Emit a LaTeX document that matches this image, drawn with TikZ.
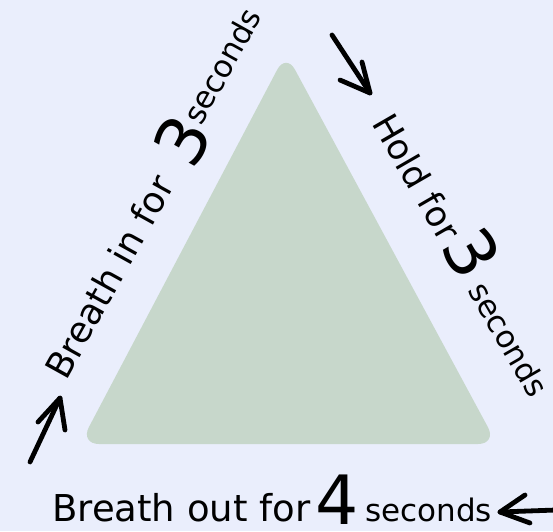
\documentclass[tikz,border=0pt]{standalone}
\usepackage{fontspec}
\setmainfont{DejaVu Sans}
\definecolor{bg}{HTML}{EAEEFC}
\definecolor{tri}{HTML}{C7D7CB}
\begin{document}
\begin{tikzpicture}[x=1pt,y=-1pt,
  txt/.style={inner sep=0pt, anchor=base west, font=\fontsize{35}{40}\selectfont},
  txtl/.style={inner sep=0pt, anchor=base west, font=\fontsize{36}{40}\selectfont},
  txtb/.style={inner sep=0pt, anchor=base west, font=\fontsize{37}{42}\selectfont},
  small/.style={inner sep=0pt, anchor=base west, font=\fontsize{31}{36}\selectfont},
  big/.style={inner sep=0pt, font=\fontsize{68}{72}\selectfont},
  hand/.style={line width=4.8pt, line cap=round, line join=round, draw=black}]
\useasboundingbox (0,0) rectangle (553,531);
\fill[bg] (0,0) rectangle (553,531);
% triangle
\coordinate (tl) at (80,444);
\coordinate (tt) at (286,53);
\coordinate (tr) at (497,444);
\fill[tri, rounded corners=19pt] (tl) -- (tt) -- (tr) -- cycle;
% left label
\node[txtl, rotate=61] (lt1) at (66,382) {Breath in for};
\node[big, rotate=61] (lt2) at (182,141) {3};
\node[small, rotate=61] (lt3) at (201,127) {seconds};
% right label
\node[txt, rotate=-60] (rt1) at (371,123) {Hold for};
\node[big, rotate=-60] (rt2) at (472,253) {3};
\node[small, rotate=-60] (rt3) at (467,290) {seconds};
% bottom label
\node[txtb] (bt1) at (52,521) {Breath out for};
\node[big] (bt2) at (337,500) {4};
\node[small] (bt3) at (365,521) {seconds};
% arrows
\coordinate (la0) at (30,462);
\coordinate (la1) at (60,398);
\coordinate (law1) at (38,422);
\coordinate (law2) at (65,430);
\draw[hand] (la0) -- (la1);
\draw[hand] (law1) -- (la1) -- (law2);
\coordinate (ta0) at (332,35);
\coordinate (ta1) at (370,93);
\coordinate (taw1) at (340,80);
\coordinate (taw2) at (362,62);
\draw[hand] (ta0) -- (ta1);
\draw[hand] (taw1) -- (ta1) -- (taw2);
\coordinate (ba0) at (556,510);
\coordinate (ba1) at (500,512);
\coordinate (baw1) at (525,495);
\coordinate (baw2) at (530,523);
\draw[hand] (ba0) -- (ba1);
\draw[hand] (baw1) -- (ba1) -- (baw2);
\end{tikzpicture}
\end{document}
